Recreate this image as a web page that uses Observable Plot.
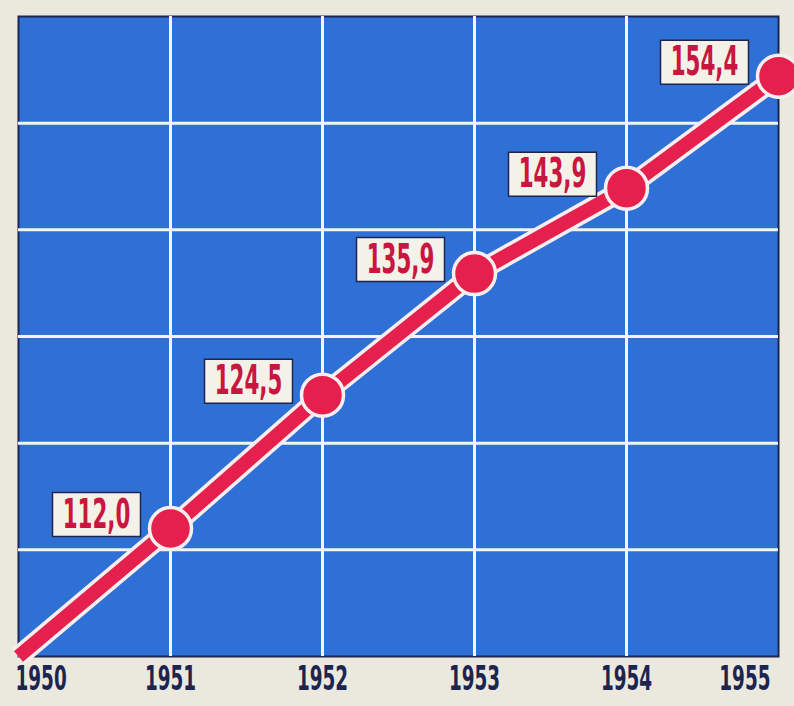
<!DOCTYPE html>
<html>
<head>
<meta charset="utf-8">
<script src="https://cdn.jsdelivr.net/npm/d3@7"></script>
<script src="https://cdn.jsdelivr.net/npm/@observablehq/plot@0.6"></script>
<style>
  html, body { margin: 0; padding: 0; background: #ebe8de; }
  #chart svg { display: block; }
</style>
</head>
<body>
<div id="chart"></div>
<script>
const years = [1950, 1951, 1952, 1953, 1954, 1955];
const values = [100, 112.0, 124.5, 135.9, 143.9, 154.4];
const valueLabels = ["", "112,0", "124,5", "135,9", "143,9", "154,4"];
const yearTicks = [1950, 1951, 1952, 1953, 1954, 1955];
const gridValues = [100, 110, 120, 130, 140, 150, 160];

const data = years.map((year, i) => ({year, value: values[i], label: valueLabels[i]}));
const marked = data.filter(d => d.label !== "");

const red = "#e6204c";
const navy = "#1c2550";
const blue = "#2f70d6";

const boxSymbol = {
  draw(ctx) {
    ctx.moveTo(-44, -22);
    ctx.lineTo(44, -22);
    ctx.lineTo(44, 22);
    ctx.lineTo(-44, 22);
    ctx.closePath();
  }
};

const tickStyle = {tickSize: 0, tickPadding: 10, fontSize: 33, fontWeight: "bold", fill: navy, tickFormat: d => String(d), anchor: "bottom", label: null};

const chart = Plot.plot({
  width: 794,
  height: 706,
  marginLeft: 18,
  marginRight: 16,
  marginTop: 16,
  marginBottom: 50,
  style: {background: "#ebe8de", fontFamily: "'DejaVu Sans Condensed', 'Liberation Sans Narrow', sans-serif"},
  x: {domain: [1950, 1955], axis: null},
  y: {domain: [100, 160], axis: null},
  marks: [
    Plot.frame({fill: blue, stroke: navy, strokeWidth: 2}),
    Plot.ruleX(yearTicks.slice(1, -1), {stroke: "#f4f4f4", strokeWidth: 3}),
    Plot.ruleY(gridValues.slice(1, -1), {stroke: "#f4f4f4", strokeWidth: 3}),
    Plot.line(data, {x: "year", y: "value", stroke: "#f7eef0", strokeWidth: 21, strokeLinecap: "butt"}),
    Plot.line(data, {x: "year", y: "value", stroke: red, strokeWidth: 14, strokeLinecap: "butt"}),
    Plot.dot(marked, {x: "year", y: "value", r: 21, fill: red, stroke: "#f7eef0", strokeWidth: 3.5}),
    Plot.dot(marked, {x: "year", y: "value", symbol: boxSymbol, r: 10, fill: "#f4f1e9", stroke: navy, strokeWidth: 1.5, dx: -74, dy: -14}),
    Plot.text(marked, {x: "year", y: "value", text: "label", dx: -74, dy: -14, fill: "#c9163f", fontSize: 41, fontWeight: "bold", textAnchor: "middle"}),
    Plot.axisX(yearTicks.slice(0, 1), {...tickStyle, textAnchor: "start", dx: -3}),
    Plot.axisX(yearTicks.slice(1, -1), {...tickStyle}),
    Plot.axisX(yearTicks.slice(-1), {...tickStyle, textAnchor: "end", dx: -8})
  ]
});

// narrow the condensed lettering of the poster style
chart.querySelectorAll('g[aria-label="text"] text').forEach(t => {
  t.setAttribute("transform", (t.getAttribute("transform") || "") + " scale(0.58,1)");
});
chart.querySelectorAll('g[aria-label="x-axis tick label"] text').forEach(t => {
  t.setAttribute("transform", (t.getAttribute("transform") || "") + " scale(0.62,1)");
});
document.getElementById("chart").append(chart);
</script>
</body>
</html>
